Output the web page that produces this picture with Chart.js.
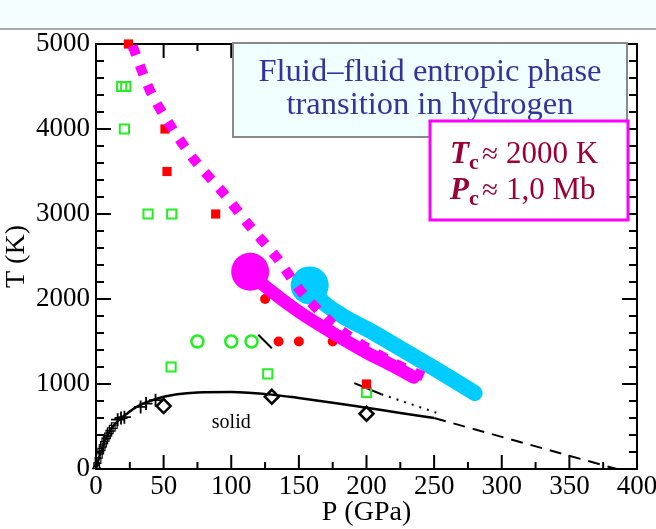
<!DOCTYPE html>
<html><head><meta charset="utf-8">
<script src="https://cdn.jsdelivr.net/npm/chart.js@4.4.0/dist/chart.umd.min.js"></script>
<style>
html,body{margin:0;padding:0;background:#fff;width:656px;height:529px;overflow:hidden;}
#band{position:absolute;left:0;top:0;width:656px;height:28px;background:#f4feff;border-bottom:2px solid #a8a8a8;}
#c{position:absolute;left:0;top:0;width:656px;height:529px;}
</style></head><body>
<div id="band"></div>
<canvas id="c" width="656" height="529"></canvas>
<script>
// ---------- data ----------
const pTicks = [0, 50, 100, 150, 200, 250, 300, 350, 400];
const tTicks = [0, 1000, 2000, 3000, 4000, 5000];

const redSqP = [24, 51, 52.5, 88.5, 200];
const redSqT = [5000, 4000, 3500, 3000, 1000];
const redCircP = [125, 135, 150, 175];
const redCircT = [2000, 1500, 1500, 1500];
const greenSqP = [19, 22, 21, 38.5, 56, 55.5, 127, 200];
const greenSqT = [4500, 4500, 4000, 3000, 3000, 1200, 1120, 900];
const greenCircP = [75, 100, 115];
const greenCircT = [1500, 1500, 1500];

const meltP = [0, 2, 4, 6, 8, 10, 14, 18, 22, 30, 40, 50, 60, 75, 100, 130, 150, 175, 200, 225, 250];
const meltT = [0, 120, 220, 310, 380, 440, 530, 590, 640, 730, 800, 850, 880, 900, 905, 875, 835, 780, 720, 660, 600];
const dashP = [250, 385];
const dashT = [600, 0];
const dotP = [211, 252];
const dotT = [880, 660];
const segAP = [120, 130];
const segAT = [1580, 1420];
const segBP = [191, 211];
const segBT = [1010, 880];
const diamondP = [50, 130, 200];
const diamondT = [740, 850, 650];
const smallSqP = [0.5, 1.5, 2.5, 3.5, 4.5, 5.5, 6.5, 7.5, 8.5, 9.5, 10.5, 12, 13.5];
const smallSqT = [40, 100, 160, 210, 250, 290, 330, 360, 390, 420, 450, 480, 510];
const triP = [0.5];
const triT = [30];
const crossP = [16, 18.5, 21, 33, 37, 44];
const crossT = [580, 600, 610, 730, 770, 810];

const magDotP = [27, 40, 55, 73, 94, 113, 134, 152, 174, 186, 200, 220, 242];
const magDotT = [4980, 4450, 4040, 3630, 3250, 2870, 2480, 2080, 1720, 1575, 1430, 1250, 1090];
const magLineP = [114, 125, 150, 175, 200, 220, 235];
const magLineT = [2320, 2150, 1850, 1600, 1370, 1210, 1080];
const magCritP = [114];
const magCritT = [2320];
const cyanLineP = [158, 168, 185, 200, 225, 249, 280];
const cyanLineT = [2160, 1960, 1775, 1650, 1420, 1195, 894];
const cyanCritP = [158];
const cyanCritT = [2160];

const titleLines = ['Fluid\u2013fluid entropic phase', 'transition in hydrogen'];
const critLines = [['T', 'c', '\u2248', '2000 K'], ['P', 'c', '\u2248', '1,0 Mb']];
const solidLabel = 'solid';
const solidAt = [100, 480];

// ---------- helpers ----------
const pts = (xs, ys) => xs.map((v, i) => ({x: v, y: ys[i]}));
const SERIF = '"Liberation Serif", "Times New Roman", serif';

function lineDs(xs, ys, color, width, extra) {
  return Object.assign({data: pts(xs, ys), showLine: true, borderColor: color, borderWidth: width,
    pointRadius: 0, fill: false, tension: 0.3, clip: false}, extra || {});
}
function ptDs(xs, ys, style, r, fillColor, strokeColor, bw) {
  return {data: pts(xs, ys), showLine: false, pointStyle: style, pointRadius: r,
    backgroundColor: fillColor, borderColor: strokeColor, pointBorderWidth: bw, borderWidth: bw, clip: false};
}

const datasets = [
  lineDs(magDotP, magDotT, '#ff00ff', 10, {borderDash: [10, 11], borderCapStyle: 'butt'}),
  ptDs(magCritP, magCritT, 'circle', 19, '#ff00ff', '#ff00ff', 0),
  lineDs(magLineP, magLineT, '#ff00ff', 13, {borderCapStyle: 'round', borderJoinStyle: 'round'}),
  ptDs(cyanCritP, cyanCritT, 'circle', 19, '#00ccff', '#00ccff', 0),
  lineDs(cyanLineP, cyanLineT, '#00ccff', 16, {borderCapStyle: 'round', borderJoinStyle: 'round'}),
  ptDs(redSqP, redSqT, 'rect', 6.5, '#ff0000', '#ff0000', 0),
  ptDs(redCircP, redCircT, 'circle', 5, '#ff0000', '#ff0000', 0),
  ptDs(greenSqP, greenSqT, 'rect', 6.5, 'rgba(0,0,0,0)', '#22ee22', 2),
  ptDs(greenCircP, greenCircT, 'circle', 6, 'rgba(0,0,0,0)', '#22ee22', 2.5),
  lineDs(segAP, segAT, '#000', 2, {tension: 0}),
  lineDs(segBP, segBT, '#000', 2, {tension: 0}),
  lineDs(dotP, dotT, '#000', 2, {tension: 0, borderDash: [2, 6]}),
  lineDs(dashP, dashT, '#000', 2, {tension: 0, borderDash: [12, 8]}),
  lineDs(meltP, meltT, '#000', 2.5, {tension: 0.4, cubicInterpolationMode: 'monotone'}),
  ptDs(diamondP, diamondT, 'rectRot', 7, '#fff', '#000', 2.5),
  ptDs(crossP, crossT, 'cross', 6.5, '#000', '#000', 1.8),
  ptDs(smallSqP, smallSqT, 'rect', 4, 'rgba(0,0,0,0)', '#000', 1.2),
  ptDs(triP, triT, 'triangle', 4.5, 'rgba(0,0,0,0)', '#000', 1.3)
];

// ---------- plugin: inward ticks, frame, annotations ----------
const framePlugin = {
  id: 'frame',
  beforeDatasetsDraw(chart) {
    const {ctx, chartArea: a, scales: {x, y}} = chart;
    ctx.save();
    ctx.strokeStyle = '#000';
    ctx.lineWidth = 2;
    ctx.beginPath();
    for (let v = 25; v < 400; v += 25) {
      const px = x.getPixelForValue(v);
      const len = v % 50 === 0 ? 14 : 7;
      ctx.moveTo(px, a.bottom); ctx.lineTo(px, a.bottom - len);
      ctx.moveTo(px, a.top); ctx.lineTo(px, a.top + len);
    }
    for (let v = 200; v < 5000; v += 200) {
      const py = y.getPixelForValue(v);
      const len = v % 1000 === 0 ? 15 : 8;
      ctx.moveTo(a.left, py); ctx.lineTo(a.left + len, py);
      ctx.moveTo(a.right, py); ctx.lineTo(a.right - len, py);
    }
    ctx.stroke();
    ctx.strokeRect(a.left, a.top, a.right - a.left, a.bottom - a.top);
    // "solid" label
    ctx.fillStyle = '#000';
    ctx.font = '20px ' + SERIF;
    ctx.textAlign = 'center';
    ctx.textBaseline = 'alphabetic';
    ctx.fillText(solidLabel, x.getPixelForValue(solidAt[0]), y.getPixelForValue(solidAt[1]));
    ctx.restore();
  },
  afterDraw(chart) {
    const ctx = chart.ctx;
    ctx.save();
    // blue title box
    ctx.fillStyle = '#effefe';
    ctx.fillRect(233, 43, 394, 94);
    ctx.strokeStyle = '#8a8a8a';
    ctx.lineWidth = 2;
    ctx.strokeRect(233, 43, 394, 94);
    ctx.font = '100px ' + SERIF;
    const w1 = ctx.measureText(titleLines[0]).width;
    const fs = 100 * 343 / w1;
    ctx.font = fs.toFixed(2) + 'px ' + SERIF;
    ctx.fillStyle = '#333399';
    ctx.textAlign = 'center';
    ctx.textBaseline = 'alphabetic';
    ctx.fillText(titleLines[0], 430, 81);
    ctx.fillText(titleLines[1], 430, 114);
    // magenta critical-point box
    ctx.fillStyle = '#fff';
    ctx.fillRect(430, 121, 198, 99);
    ctx.strokeStyle = '#ff00ff';
    ctx.lineWidth = 3;
    ctx.strokeRect(430, 121, 198, 99);
    ctx.fillStyle = '#990033';
    ctx.textAlign = 'left';
    const bases = [163, 199];
    critLines.forEach((parts, i) => {
      const b = bases[i];
      let xx = 450;
      ctx.font = 'italic bold 31px ' + SERIF;
      ctx.fillText(parts[0], xx, b);
      xx += ctx.measureText(parts[0]).width;
      ctx.font = 'bold 22px ' + SERIF;
      ctx.fillText(parts[1], xx, b + 6);
      ctx.font = '29px ' + SERIF;
      ctx.fillText(parts[2], 482, b);
      ctx.font = '31px ' + SERIF;
      ctx.fillText(parts[3], 506, b);
    });
    ctx.restore();
  }
};

const tickFont = {family: SERIF, size: 27};
const titleFont = {family: SERIF, size: 28};

new Chart(document.getElementById('c'), {
  type: 'scatter',
  data: {datasets},
  options: {
    responsive: false,
    animation: false,
    events: [],
    devicePixelRatio: 1,
    layout: {padding: {top: 44, right: 18, left: 0, bottom: 0}},
    plugins: {legend: {display: false}, tooltip: {enabled: false}},
    scales: {
      x: {
        type: 'linear', min: 0, max: 400,
        afterBuildTicks: s => { s.ticks = pTicks.map(v => ({value: v})); },
        afterFit: s => { s.height = 60; s.paddingLeft = 0; s.paddingRight = 0; },
        grid: {display: false, drawTicks: false},
        border: {display: false},
        ticks: {font: tickFont, color: '#000', padding: 2, maxRotation: 0, autoSkip: false,
                callback: v => String(v)},
        title: {display: true, text: 'P (GPa)', font: titleFont, color: '#000', padding: 0}
      },
      y: {
        type: 'linear', min: 0, max: 5000,
        afterBuildTicks: s => { s.ticks = tTicks.map(v => ({value: v})); },
        afterFit: s => { s.width = 96; s.paddingTop = 0; s.paddingBottom = 0; },
        grid: {display: false, drawTicks: false},
        border: {display: false},
        ticks: {font: tickFont, color: '#000', padding: 6, autoSkip: false,
                callback: v => String(v)},
        title: {display: true, text: 'T (K)', font: titleFont, color: '#000', padding: 0}
      }
    }
  },
  plugins: [framePlugin]
});
</script></body></html>
